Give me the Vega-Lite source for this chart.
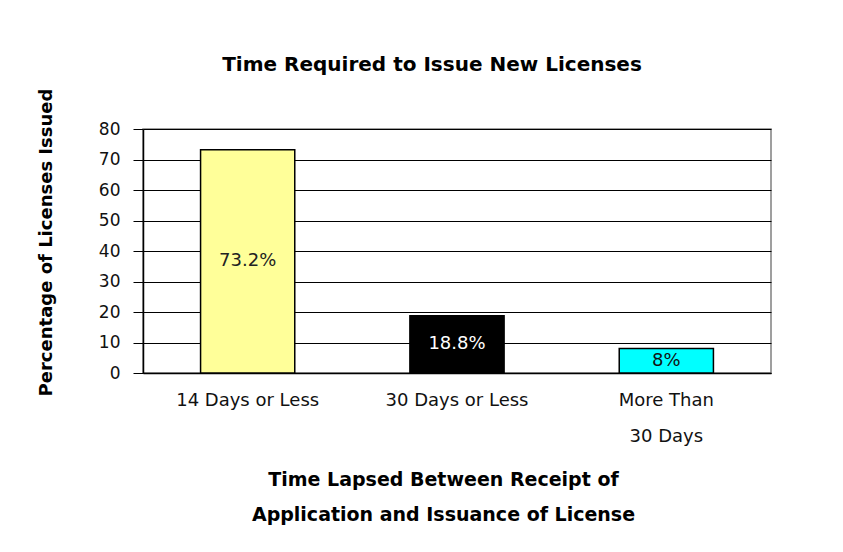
{
  "$schema": "https://vega.github.io/schema/vega-lite/v6.json",
  "width": 628,
  "height": 244,
  "autosize": {"type": "none"},
  "padding": {"left": 143, "top": 129, "right": 72, "bottom": 179},
  "background": "white",
  "config": {
    "font": "DejaVu Sans",
    "view": {"stroke": "#808080", "strokeWidth": 1.5}
  },
  "title": {
    "text": "Time Required to Issue New Licenses",
    "font": "DejaVu Sans",
    "fontSize": 20,
    "fontWeight": "bold",
    "color": "black",
    "anchor": "middle",
    "frame": "group",
    "dx": -25,
    "baseline": "alphabetic",
    "offset": -3
  },
  "data": {
    "values": [
      {"category": "14 Days or Less", "value": 73.2, "label": "73.2%"},
      {"category": "30 Days or Less", "value": 18.8, "label": "18.8%"},
      {"category": "More Than 30 Days", "value": 8, "label": "8%"}
    ]
  },
  "transform": [{"calculate": "datum.value / 2", "as": "mid"}],
  "encoding": {
    "x": {
      "field": "category",
      "type": "nominal",
      "sort": null,
      "scale": {"paddingInner": 0.55, "paddingOuter": 0.275},
      "axis": {
        "title": ["Time Lapsed Between Receipt of", "Application and Issuance of License"],
        "titleFont": "DejaVu Sans",
        "titleFontSize": 19,
        "titleFontWeight": "bold",
        "titleColor": "black",
        "titleLineHeight": 35,
        "titleBaseline": "alphabetic",
        "titleAnchor": "middle",
        "titleX": 300,
        "titleY": 112,
        "labelAngle": 0,
        "labelFontSize": 18,
        "labelColor": "#111111",
        "labelLineHeight": 36,
        "labelPadding": 18,
        "labelExpr": "datum.value == 'More Than 30 Days' ? ['More Than', '30 Days'] : datum.value",
        "ticks": false,
        "tickSize": 0,
        "domainColor": "black",
        "domainWidth": 1.5,
        "grid": false
      }
    }
  },
  "layer": [
    {
      "mark": {"type": "bar", "stroke": "black", "strokeWidth": 1.5},
      "encoding": {
        "y": {
          "field": "value",
          "type": "quantitative",
          "scale": {"domain": [0, 80], "nice": false},
          "axis": {
            "title": "Percentage of Licenses Issued",
            "titleFont": "DejaVu Sans",
            "titleFontSize": 18,
            "titleFontWeight": "bold",
            "titleColor": "black",
            "titleBaseline": "middle",
            "titleAngle": -90,
            "titleAlign": "center",
            "titleX": -97,
            "titleY": 113,
            "values": [0, 10, 20, 30, 40, 50, 60, 70, 80],
            "labelOverlap": false,
            "labelFontSize": 17,
            "labelColor": "#111111",
            "labelPadding": 13,
            "tickSize": 10,
            "tickColor": "black",
            "tickWidth": 1,
            "domainColor": "black",
            "domainWidth": 1.5,
            "grid": true,
            "gridColor": "black",
            "gridWidth": 1,
            "gridOpacity": 1
          }
        },
        "color": {
          "field": "category",
          "type": "nominal",
          "sort": null,
          "scale": {"range": ["#FFFF99", "#000000", "#00FFFF"]},
          "legend": null
        }
      }
    },
    {
      "mark": {"type": "text", "fontSize": 18, "baseline": "middle", "align": "center"},
      "encoding": {
        "y": {
          "field": "mid",
          "type": "quantitative",
          "axis": {
            "title": "Percentage of Licenses Issued",
            "titleFont": "DejaVu Sans",
            "titleFontSize": 18,
            "titleFontWeight": "bold",
            "titleColor": "black",
            "titleBaseline": "middle",
            "titleAngle": -90,
            "titleAlign": "center",
            "titleX": -97,
            "titleY": 113,
            "values": [0, 10, 20, 30, 40, 50, 60, 70, 80],
            "labelOverlap": false,
            "labelFontSize": 17,
            "labelColor": "#111111",
            "labelPadding": 13,
            "tickSize": 10,
            "tickColor": "black",
            "tickWidth": 1,
            "domainColor": "black",
            "domainWidth": 1.5,
            "grid": true,
            "gridColor": "black",
            "gridWidth": 1,
            "gridOpacity": 1
          }
        },
        "text": {"field": "label", "type": "nominal"},
        "color": {
          "field": "category",
          "type": "nominal",
          "sort": null,
          "scale": {"range": ["#222222", "#FFFFFF", "#111111"]},
          "legend": null
        }
      }
    }
  ],
  "resolve": {"scale": {"color": "independent"}}
}
